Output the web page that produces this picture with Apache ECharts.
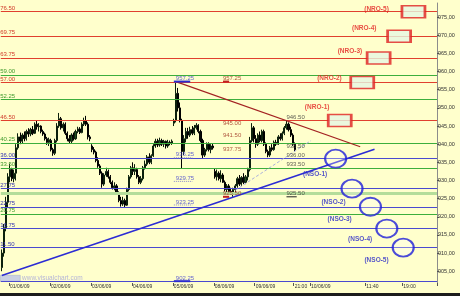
<!DOCTYPE html>
<html><head><meta charset="utf-8">
<script src="https://cdn.jsdelivr.net/npm/echarts@6/dist/echarts.min.js"></script>
<style>html,body{margin:0;padding:0;background:#FFFFCC}#c{width:460px;height:296px}</style>
</head><body><div id="c"></div>
<script>
// ---- data ----
const candles = [ // [open, close, low, high]
[906,910,905,911],[910,917,909,918],[917,924,916,925.5],[924,931,922.4,932],
[931,933,929.5,934.5],[933,930.5,929.8,933.5],[930.5,932,929.5,933],[932,939,930,940],
[939,942,938.5,943],[942,940.8,940,943.2],[940.8,942.5,940.2,943],[942.5,941.5,940.8,943.5],
[941.5,943.5,941,944],[943.5,942.8,942,944.4],[942.8,944,942.2,944.5],[944,943,942.5,945],
[943,945.5,942.8,946],[945.5,944.8,944,946.5],[944.8,945,943.5,945.8],[945,943.5,943,945.2],
[943.5,942.8,942.3,944],[942.8,941.5,941,943.2],[941.5,940.5,939.8,942],[940.5,941.2,939.5,941.8],
[941,938.5,938,941.5],[938.5,937.5,936.8,939],[937.5,941,937,941.5],[941,945,940.5,945.8],
[945,947,944.5,948.6],[947,944.5,944,947.5],[944.5,945.5,943.5,946],[945.5,943,942.5,946],
[943,941.5,940.8,943.5],[941.5,940.8,940.2,942.5],[940.8,942.5,940.3,943],[942.5,941.5,941,943.2],
[941.5,943.5,941.2,944],[943.5,944.2,943,944.8],[944.2,943.2,942.8,944.7],[943.2,945.5,943,946],
[945.5,946.5,945,947.3],[946.5,945.5,945,947.8],[945.5,942,941.3,946],[942,941.5,940.8,942.5],
[939.5,938.5,937.8,940],[938.5,937.8,937.2,939.2],[937.8,935.5,935,938.2],[935.5,934,933.5,936.4],
[934,932,931.5,934.5],[932,929,928,932.5],[929,931.5,928.5,932],[931.5,932.5,931,933.5],
[932.5,931,930.5,933],[931,929.5,929,931.5],[929.5,928,927.5,930],[928,928.5,927.3,929.5],
[928.5,926.5,926,929],[926.5,924.5,924,927],[924.5,923.5,922.8,925.5],[923.5,924.5,923,925.5],
[924.5,923.2,922.7,925],[923.2,927.5,923,928],[927.5,931,927,931.5],[931,933.5,930.5,934],
[933.5,932.5,931.5,935],[932.5,933,931.5,934.5],[933,931,930.5,933.5],[931,929.5,929,931.5],
[929.5,930.5,929,931.2],[930.5,933.5,930,934],[933.5,934.5,933,935.5],[934.5,936.5,934,937],
[936.5,935,934.5,937.5],[935,936.8,934.5,937.2],[936.8,939.5,936.5,940],[939.5,940.8,939,941.5],
[940.8,939.8,939.2,941.5],[939.8,941,939.3,941.8],[941,940,939.5,941.5],[940,940.8,939.2,941.2],
[940.8,939.5,938.8,941],[939.5,940.5,939,941.2],[940.5,940.2,939.7,941],[940.2,940.8,939.8,941.3],
[945.8,946.5,945,947],[946.5,954,946,957.25],[954,950,949,955.5],[950,946.5,946,951.5],
[946.5,938,933.3,947],[938,941.5,937,942.5],[941.5,943.5,940.5,944.5],[943.5,942.5,941.5,944.5],
[942.5,944,942,944.8],[944,943,942.5,945],[943,944.5,942.5,945.3],[944.5,945.2,944,945.8],
[945.2,943.5,943,945.5],[943.5,941,940.5,944],[941,937,936.2,941.5],[937,938.5,936.5,939],
[938.5,940,938,940.5],[940,938.5,938,940.5],[938.5,939.5,937.5,940],[939.5,939,938.5,940.2],
[932.5,931,930.5,933.2],[931,932,930,933],[932,930.5,930,932.5],[930.5,931.5,929.5,932.8],
[931.5,929.5,929.3,932],[929.5,927.5,927,930],[927.5,928.5,926.8,929],[928.5,927,926.5,929],
[927,926.8,926,928],[926.8,927.5,925.5,928],[927.5,928.5,926.5,929],[928.5,930.5,928,931],
[930.5,929,928.5,931.5],[929,930.8,928.5,931.2],[930.8,929.5,929,932],[929.5,931,929,931.5],
[931,933,930,933.5],[933,941,932.5,942],[941,944.5,940.5,945.8],[944.5,941.5,940.5,945],
[941.5,940,939,942.5],[940,942.5,939.5,943],[942.5,941,940.5,943.5],[941,943.5,940.5,944],
[943.5,940,939.5,944],[940,938,937.5,940.5],[938,937,936.4,938.5],[937,939,936.5,939.5],
[939,938.5,938,940],[938.5,940.5,938.2,941],[940.5,940,939.5,941.2],[940,942,939.8,942.5],
[942,941.5,941,943],[941.5,943,941,943.5],[943,944.5,942.5,945],[944.5,945.5,944,946.5],
[945.5,944,943.5,946],[944,942.5,942,944.8],[942.5,940,939.5,943],[940,938.5,938,940.5]
];
const slotCount = 213;
const tickSlots  = [4, 24, 44, 64, 84, 104, 124, 143, 151, 178, 196];
const tickLabels = ['01/06/09','02/06/09','03/06/09','04/06/09','05/06/09','08/06/09','09/06/09','21:00','10/06/09','11:40','19:00'];
const yTicks = [905,910,915,920,925,930,935,940,945,950,955,960,965,970,975];

const redLevels   = [976.50, 969.75, 963.75, 957.00, 946.50];
const greenLevels = [959.00, 952.25, 940.25, 933.50, 920.75];
const blueLevels  = [936.00, 927.75, 922.75, 916.75, 911.50];
const bandLevels  = [926.50];
const baseLevels  = [902.25];

const fibBlue  = [957.25, 936.25, 929.75, 923.25, 902.25];
const fibRed   = [957.25, 945.00, 941.50, 937.75, 925.50];
const fibBlack = [946.50, 938.50, 936.00, 933.50, 925.50];
const fibBlueSlot = 85, fibRedSlot = 108, fibBlackSlot = 139;

const resistTrend = [[85, 957.25], [175, 939.3]];
const supportTrend = [[0, 903.8], [182, 938.6]];
const dashTrend = [[114, 927.3], [151, 941.0]];

const nroNames = ['(NRO-5)','(NRO-4)','(NRO-3)','(NRO-2)','(NRO-1)'];
const nroSlots = [201, 194, 184, 176, 165];          // box centres (paired with redLevels)
const nroLabelAt = [[183, 977.2], [177, 972.0], [170, 965.6], [160, 958.2], [154, 950.2]];
const nsoNames = ['(NSO-1)','(NSO-2)','(NSO-3)','(NSO-4)','(NSO-5)'];
const nsoSlots = [163, 171, 180, 188, 196];          // circle centres (paired with blueLevels)
const nsoLabelAt = [[153, 931.75], [162, 924.1], [165, 919.4], [175, 913.8], [183, 908.1]];

// ---- build ----
const tickSet = new Set(tickSlots);
const categories = Array.from({length: slotCount}, (_, i) => {
  const k = tickSlots.indexOf(i); return k >= 0 ? tickLabels[k] : 't' + i;
});
const FF = 'Liberation Sans';

function levelSeries(values, color, width, labelColor, showLabel) {
  return { type: 'line', data: [], silent: true, z: 1,
    markLine: { symbol: ['none', 'none'], silent: true, animation: false,
      lineStyle: { color: color, width: width, type: 'solid', opacity: 1 },
      emphasis: { disabled: true },
      label: { show: showLabel, position: 'insideStartTop', formatter: p => p.value.toFixed(2),
        color: labelColor, fontSize: 6, fontFamily: FF, distance: [0, 0.5], offset: [-4, 0] },
      data: values.map(v => ({ yAxis: v })) } };
}
function fibLabels(values, slot, color) {
  return { type: 'scatter', symbolSize: 0.1, itemStyle: { color: 'transparent' }, silent: true, z: 6,
    data: values.map(v => [slot, v]),
    label: { show: true, position: [0, 0], align: 'left', verticalAlign: 'bottom',
      formatter: p => p.value[1].toFixed(2), color: color, fontSize: 6, fontFamily: FF } };
}
function segment(a, b, color, width, type) {
  return { type: 'line', data: [a, b], symbol: 'none', silent: true, z: 5,
    lineStyle: { color: color, width: width, type: type } };
}
function textSeries(names, at, color) {
  return { type: 'scatter', symbolSize: 0.1, itemStyle: { color: 'transparent' }, silent: true, z: 8,
    data: at.map((p, i) => ({ value: p, name: names[i] })),
    label: { show: true, position: [0, 0], align: 'center', verticalAlign: 'middle',
      formatter: p => p.name, color: color, fontSize: 6.5, fontWeight: 'bold', fontFamily: FF } };
}

const series = [
  levelSeries(bandLevels, '#b4dd9a', 3, '#4a9a2a', false),
  levelSeries(redLevels, '#e0402e', 1, '#d03a2a', true),
  levelSeries(greenLevels, '#3cae3c', 1, '#3f9a2c', true),
  levelSeries(blueLevels, '#4a4ad0', 1, '#3434b0', true),
  levelSeries(baseLevels, '#4a4ad0', 1, '#3434b0', false),
  { type: 'candlestick', data: candles, barWidth: 1.6, z: 3, silent: true,
    itemStyle: { color: '#1f4f1f', color0: '#050905', borderColor: '#0c200c', borderColor0: '#000', borderWidth: 1 } },
  segment(resistTrend[0], resistTrend[1], '#a32222', 1.2, 'solid'),
  segment(supportTrend[0], supportTrend[1], '#2c2cd4', 1.6, 'solid'),
  segment(dashTrend[0], dashTrend[1], '#aab0dc', 1, [3, 2]),
  // fib markers
  ...fibBlue.slice(1, 4).map(v => segment([fibBlueSlot - 1, v], [fibBlueSlot + 8, v], '#8888cc', 1, [1, 1])),
  segment([fibBlueSlot - 1, fibBlue[0]], [fibBlueSlot + 7, fibBlue[0]], '#2a2ad0', 2, 'solid'),
  segment([fibBlueSlot - 1, fibBlue[4]], [fibBlueSlot + 7, fibBlue[4]], '#2a2ad0', 2, 'solid'),
  segment([fibRedSlot, fibRed[0]], [fibRedSlot + 3, fibRed[0]], '#c02020', 2, 'solid'),
  segment([fibRedSlot, fibRed[4]], [fibRedSlot + 3, fibRed[4]], '#c02020', 2, 'solid'),
  segment([fibBlackSlot, fibBlack[4]], [fibBlackSlot + 5, fibBlack[4]], '#222', 1, 'solid'),
  fibLabels(fibBlue, fibBlueSlot, '#3a3ad0'),
  fibLabels(fibRed, fibRedSlot, '#9a2a1a'),
  fibLabels(fibBlack, fibBlackSlot, '#333'),
  { type: 'scatter', symbol: 'rect', symbolSize: [23, 12], silent: true, z: 7,
    data: redLevels.map((v, i) => [nroSlots[i], v]),
    itemStyle: { color: '#e6f6e2', borderColor: '#e02020', borderWidth: 2 } },
  { type: 'scatter', symbol: 'circle', symbolSize: [21, 18], silent: true, z: 7,
    data: blueLevels.map((v, i) => [nsoSlots[i], v]),
    itemStyle: { color: 'rgba(255,255,255,0.35)', borderColor: '#1e1ed8', borderWidth: 2 } },
  textSeries(nroNames, nroLabelAt, '#e22020'),
  textSeries(nsoNames, nsoLabelAt, '#2a2ac8')
];

const chart = echarts.init(document.getElementById('c'), null, { renderer: 'canvas' });
chart.setOption({
  animation: false,
  backgroundColor: '#FFFFCC',
  grid: { left: 0.8, right: 23, top: 3, bottom: 13, containLabel: false },
  xAxis: { type: 'category', data: categories, boundaryGap: true,
    axisLine: { show: false },
    axisTick: { show: true, interval: (i) => tickSet.has(i), length: 3, lineStyle: { color: '#555' } },
    axisLabel: { interval: (i) => tickSet.has(i), formatter: v => (v[0] === 't' ? '' : v),
      align: 'left', margin: 1, fontSize: 5, color: '#333', fontFamily: FF },
    splitLine: { show: false } },
  yAxis: { type: 'value', position: 'right', min: 901.75, max: 978.9, scale: true,
    splitLine: { show: false },
    axisLine: { show: true, lineStyle: { color: '#8c8c8c' } },
    axisTick: { show: true, customValues: yTicks, length: 2, lineStyle: { color: '#555' } },
    axisLabel: { customValues: yTicks, formatter: v => v.toFixed(2).replace('.', ','),
      fontSize: 5.5, color: '#333', margin: 1, fontFamily: FF } },
  graphic: [
    { type: 'rect', left: 0, top: 293, shape: { width: 460, height: 3 }, style: { fill: '#1c1c1c' } },
    { type: 'rect', left: 0, top: 275, shape: { width: 20, height: 6 }, style: { fill: '#c9d0e2', stroke: '#a0a8c8', lineWidth: 0.5 } },
    { type: 'text', left: 22, top: 274.5, style: { text: 'www.visualchart.com', fill: '#b6b6d8', fontSize: 6.5, fontFamily: FF } }
  ],
  series: series
});
</script></body></html>
